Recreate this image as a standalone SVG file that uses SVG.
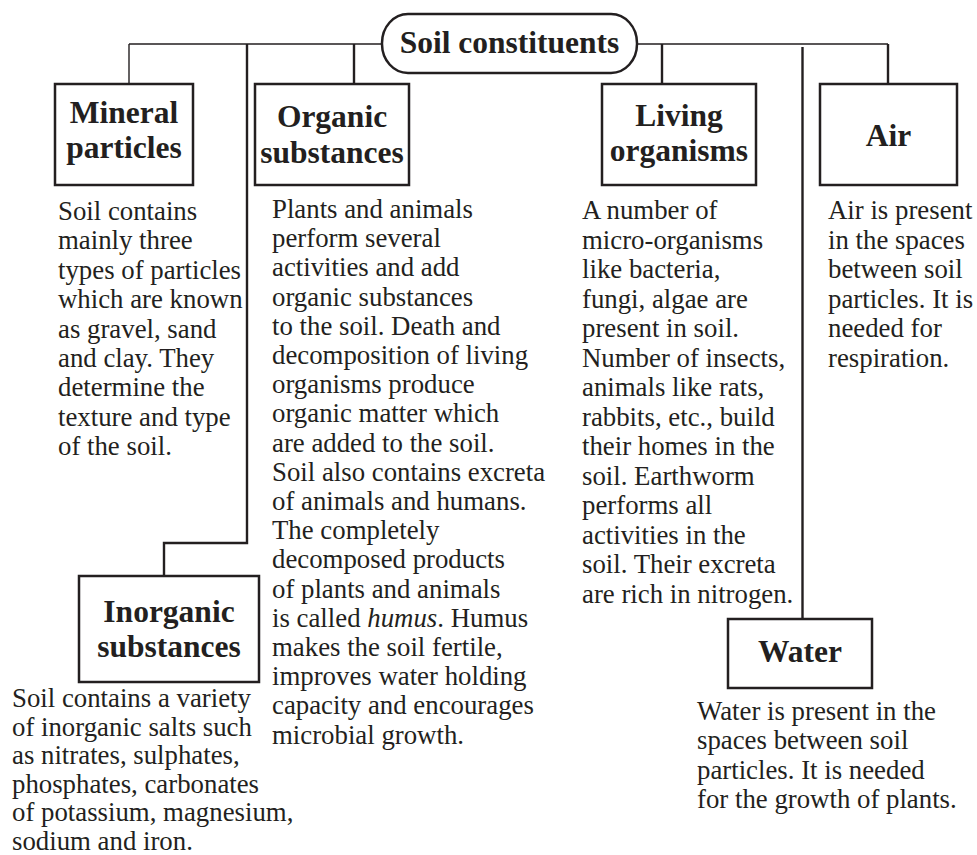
<svg xmlns="http://www.w3.org/2000/svg" width="977" height="855" viewBox="0 0 977 855">
<style>
.bg{fill:#ffffff}
.box{fill:#ffffff;stroke:#231f20;stroke-width:2.5}
.thin{fill:none;stroke:#231f20;stroke-width:1.4}
.thick{fill:none;stroke:#231f20;stroke-width:2.4}
.h{font-family:"Liberation Serif","Times New Roman",serif;font-weight:bold;font-size:31.5px;fill:#231f20;text-anchor:middle}
.t{font-family:"Liberation Serif","Times New Roman",serif;font-size:26.8px;fill:#231f20}
</style>
<rect class="bg" x="0" y="0" width="977" height="855"/>
<g id="connectors">
<path class="thin" d="M129,44 H382 M637,44 H888"/>
<path class="thin" d="M129,44 V84"/>
<path class="thick" d="M247,44 V543 H164 V576"/>
<path class="thick" d="M354,44 V84"/>
<path class="thick" d="M662,44 V84"/>
<path class="thick" d="M888,44 V84"/>
<path class="thick" d="M802.5,47 V619"/>
</g>
<g id="root">
<rect class="box" x="382" y="14" width="255" height="59" rx="26" ry="29"/>
<text class="h" x="509.5" y="53">Soil constituents</text>
</g>
<g id="mineral">
<rect class="box" x="55" y="84" width="138" height="101"/>
<text class="h" x="124" y="123">Mineral</text>
<text class="h" x="124" y="158">particles</text>
<text class="t" x="58" y="220">Soil contains</text>
<text class="t" x="58" y="249.4">mainly three</text>
<text class="t" x="58" y="278.8">types of particles</text>
<text class="t" x="58" y="308.2">which are known</text>
<text class="t" x="58" y="337.6">as gravel, sand</text>
<text class="t" x="58" y="367">and clay. They</text>
<text class="t" x="58" y="396.4">determine the</text>
<text class="t" x="58" y="425.8">texture and type</text>
<text class="t" x="58" y="455.2">of the soil.</text>
</g>
<g id="organic">
<rect class="box" x="255" y="84" width="154" height="101"/>
<text class="h" x="332" y="127">Organic</text>
<text class="h" x="332" y="163">substances</text>
<text class="t" x="272" y="218">Plants and animals</text>
<text class="t" x="272" y="247.2">perform several</text>
<text class="t" x="272" y="276.4">activities and add</text>
<text class="t" x="272" y="305.6">organic substances</text>
<text class="t" x="272" y="334.8">to the soil. Death and</text>
<text class="t" x="272" y="364">decomposition of living</text>
<text class="t" x="272" y="393.2">organisms produce</text>
<text class="t" x="272" y="422.4">organic matter which</text>
<text class="t" x="272" y="451.6">are added to the soil.</text>
<text class="t" x="272" y="480.8">Soil also contains excreta</text>
<text class="t" x="272" y="510">of animals and humans.</text>
<text class="t" x="272" y="539.2">The completely</text>
<text class="t" x="272" y="568.4">decomposed products</text>
<text class="t" x="272" y="597.6">of plants and animals</text>
<text class="t" x="272" y="626.8">is called <tspan font-style="italic">humus</tspan>. Humus</text>
<text class="t" x="272" y="656">makes the soil fertile,</text>
<text class="t" x="272" y="685.2">improves water holding</text>
<text class="t" x="272" y="714.4">capacity and encourages</text>
<text class="t" x="272" y="743.6">microbial growth.</text>
</g>
<g id="living">
<rect class="box" x="602" y="84" width="154" height="101"/>
<text class="h" x="679" y="126">Living</text>
<text class="h" x="679" y="161">organisms</text>
<text class="t" x="582" y="219">A number of</text>
<text class="t" x="582" y="248.5">micro-organisms</text>
<text class="t" x="582" y="278">like bacteria,</text>
<text class="t" x="582" y="307.5">fungi, algae are</text>
<text class="t" x="582" y="337">present in soil.</text>
<text class="t" x="582" y="366.5">Number of insects,</text>
<text class="t" x="582" y="396">animals like rats,</text>
<text class="t" x="582" y="425.5">rabbits, etc., build</text>
<text class="t" x="582" y="455">their homes in the</text>
<text class="t" x="582" y="484.5">soil. Earthworm</text>
<text class="t" x="582" y="514">performs all</text>
<text class="t" x="582" y="543.5">activities in the</text>
<text class="t" x="582" y="573">soil. Their excreta</text>
<text class="t" x="582" y="602.5">are rich in nitrogen.</text>
</g>
<g id="air">
<rect class="box" x="820" y="84" width="137" height="101"/>
<text class="h" x="888.5" y="146">Air</text>
<text class="t" x="828" y="219">Air is present</text>
<text class="t" x="828" y="248.5">in the spaces</text>
<text class="t" x="828" y="278">between soil</text>
<text class="t" x="828" y="307.5">particles. It is</text>
<text class="t" x="828" y="337">needed for</text>
<text class="t" x="828" y="366.5">respiration.</text>
</g>
<g id="inorganic">
<rect class="box" x="79" y="576" width="180" height="106"/>
<text class="h" x="169" y="622">Inorganic</text>
<text class="h" x="169" y="657">substances</text>
<text class="t" x="12" y="707">Soil contains a variety</text>
<text class="t" x="12" y="735.6">of inorganic salts such</text>
<text class="t" x="12" y="764.2">as nitrates, sulphates,</text>
<text class="t" x="12" y="792.8">phosphates, carbonates</text>
<text class="t" x="12" y="821.4">of potassium, magnesium,</text>
<text class="t" x="12" y="850">sodium and iron.</text>
</g>
<g id="water">
<rect class="box" x="728" y="619" width="144" height="69"/>
<text class="h" x="800" y="662">Water</text>
<text class="t" x="697" y="720">Water is present in the</text>
<text class="t" x="697" y="749.3">spaces between soil</text>
<text class="t" x="697" y="778.6">particles. It is needed</text>
<text class="t" x="697" y="808">for the growth of plants.</text>
</g>
</svg>
